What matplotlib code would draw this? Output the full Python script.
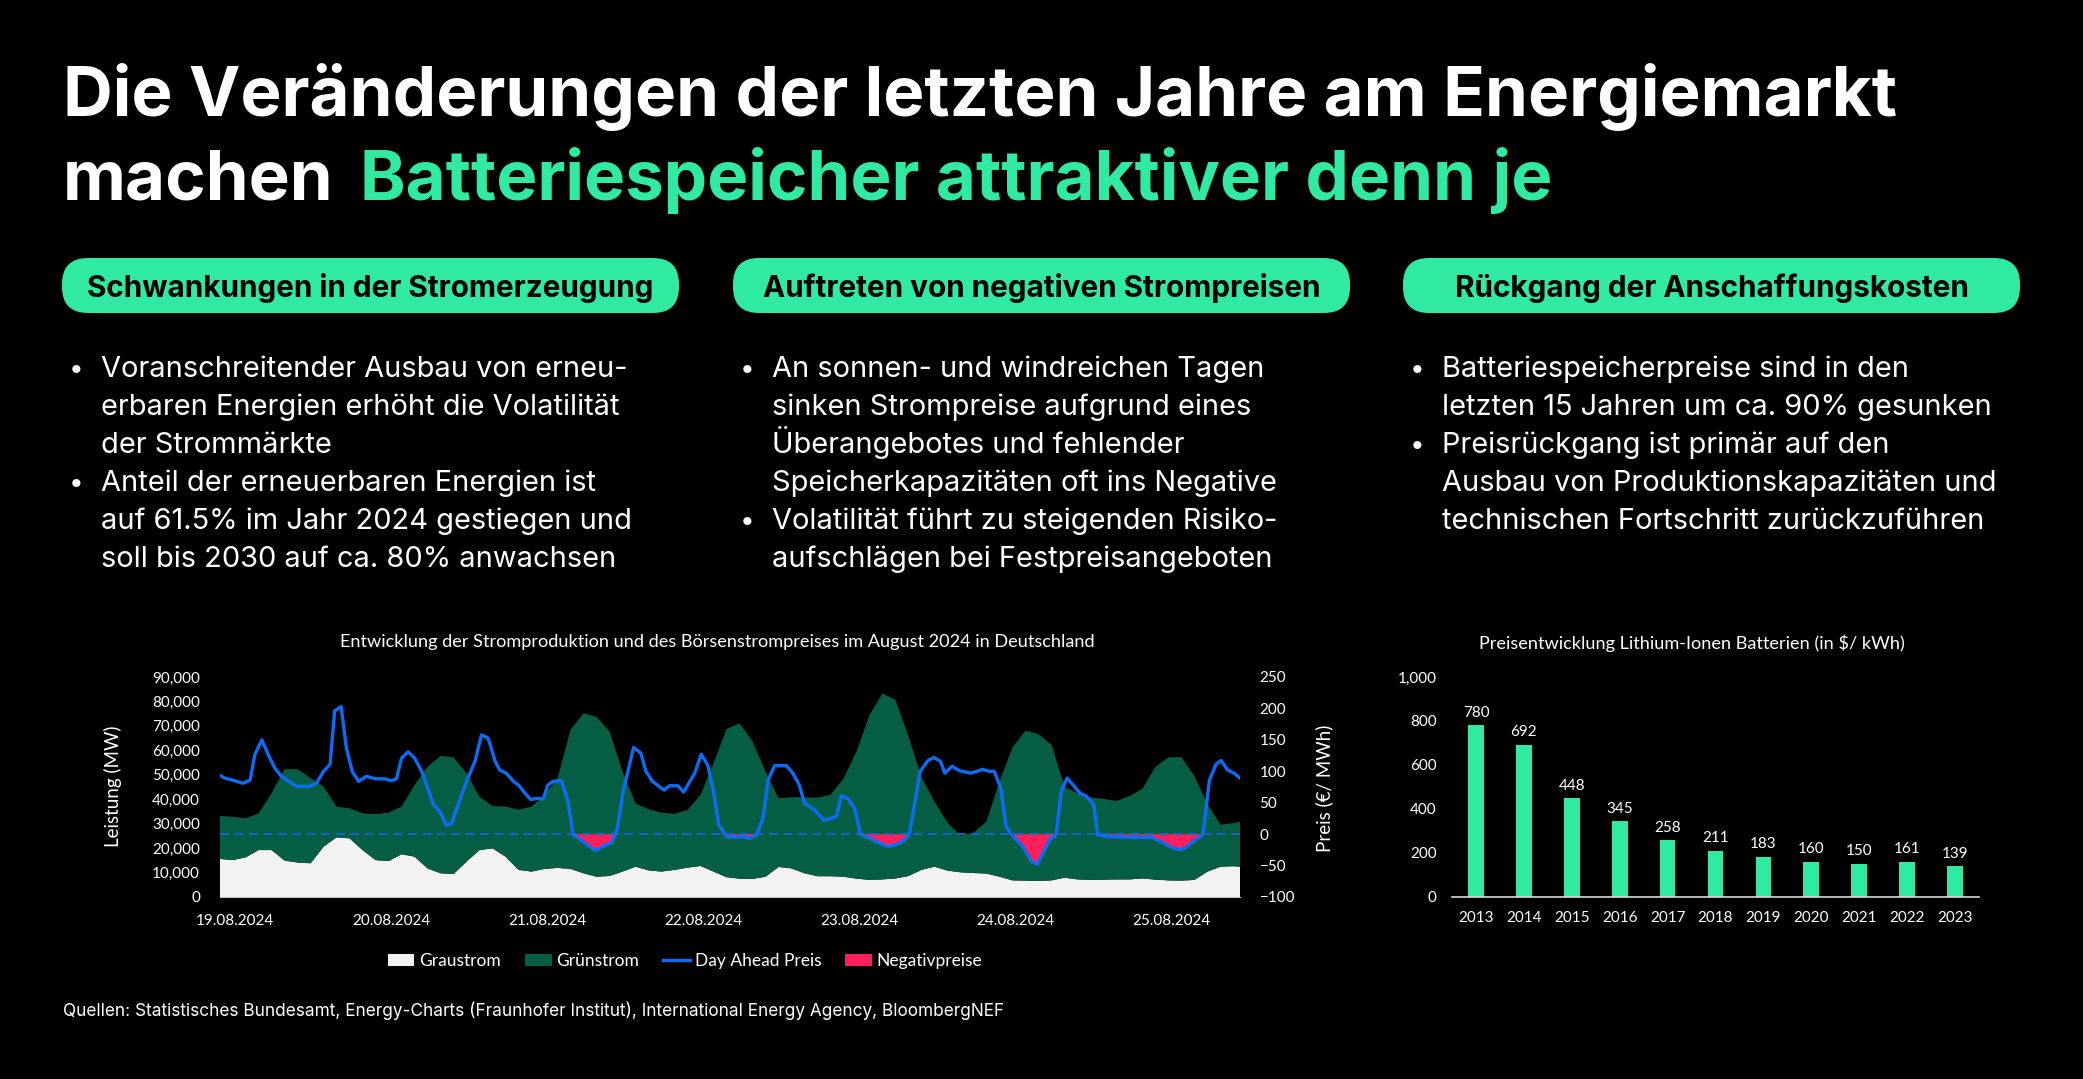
import numpy as np
import matplotlib.pyplot as plt
import matplotlib.ticker as mticker
from matplotlib.patches import FancyBboxPatch, Patch
from matplotlib.lines import Line2D

plt.rcParams['font.family'] = ['Inter', 'DejaVu Sans']

W, H = 2083, 1079
MINT = '#2feaa0'
DARK_GREEN = '#065e45'
GRAY = '#f2f2f2'
BLUE = '#0b6df6'
RED = '#ff1f5b'
CHART_FONT = ['Lato', 'DejaVu Sans']

# ---- Daten: Stromproduktion August 2024 (MW), alle 2 Stunden ab 19.08. 00:00
area_hours = list(range(0, 157, 2)) + [157]
graustrom = [15600, 15100, 16200, 19200, 19200, 14900, 14100, 13800, 20600, 24400,
             24000, 19200, 15100, 14700, 17500, 16500, 11700, 9700, 9400, 14500,
             19200, 19900, 16500, 11100, 10400, 11500, 11900, 11500, 9700, 8300,
             8600, 10400, 12400, 10900, 10400, 11100, 12000, 12700, 10400, 8100,
             7500, 7400, 8300, 12300, 11700, 9700, 8500, 8500, 8300, 7500,
             7000, 7200, 7600, 8600, 11100, 12400, 10800, 10100, 9800, 9600,
             8300, 6800, 6700, 6600, 6800, 7900, 7200, 7000, 7100, 7200,
             7200, 7600, 7100, 6800, 6700, 7000, 10400, 12400, 12600,
             12400]
gruenstrom = [17600, 17700, 16000, 15000, 23200, 37400, 38200, 34800, 24600, 12500,
              12300, 15000, 18800, 19800, 19500, 29300, 41600, 48000, 47700, 36100,
              21800, 17300, 20500, 24600, 26600, 30300, 36700, 56900, 65500, 65300,
              59100, 40900, 25900, 25000, 24100, 22900, 23600, 29100, 44300, 60600,
              63600, 56200, 43000, 28100, 29100, 31100, 32200, 33300, 40200, 52000,
              67500, 76100, 73000, 57000, 37900, 26600, 19600, 15000, 16500, 21300,
              38900, 54400, 61400, 60000, 55400, 37200, 35200, 33800, 33000, 32100,
              34100, 36700, 46200, 50300, 50500, 42300, 27600, 17200, 17600,
              18400]

# Day Ahead Preis (EUR/MWh)
price_hours = [0, 0.8, 2, 3.6, 4.7, 5.4, 6.5, 7.5, 8.5, 9.5,
               11.8, 13.9, 14.9, 16, 17, 17.7, 18.7, 19.5, 20.4, 21.4,
               22.6, 24, 25.4, 26.4, 27.2, 28, 29, 30, 31.1, 32.9,
               33.9, 34.9, 35.7, 36.7, 38, 39.3, 40.3, 41.3, 42.4, 43.1,
               44.1, 45.2, 46, 47, 47.9, 48.9, 49.8, 50.5, 51.3,
               52.6, 53.6, 54.4, 56.2, 57.8, 59.3, 60.4, 61.2, 62.1, 63.7,
               64.8, 65.6, 66.6, 68.4, 69.2, 70.5, 71.4, 73.1, 74.1, 75.1,
               75.9, 76.8, 78, 79.2, 80.5, 81.5, 82.6, 83.6, 84.4, 85.4,
               87.2, 88.2, 89.2, 90, 91.5, 93, 94.9, 95.7, 96.7, 97.7,
               98.6, 100.3, 102.8,
               103.8, 105.1, 106.1, 106.9, 107.8, 109, 109.9, 110.9, 111.6, 112.7,
               113.8, 115.6, 117.4, 118.4, 119.2, 120.2, 121, 122.3, 123.6, 124.9,
               125.8, 126.7, 127.7, 128.7, 129.5, 130.4, 131.5, 132.4, 133.3, 134.5,
               135.1, 136.6, 139.7, 143.3, 144.9, 146.4, 147.7, 148.7, 149.7, 151.3,
               152.3, 153.3, 154.1, 155.1, 156.1, 157]
price = [94, 89, 86, 81, 86, 126, 150, 126, 105, 92,
         76, 76, 81, 100, 111, 196, 203, 137, 100, 84,
         92, 88, 88, 85, 88, 121, 131, 121, 100, 47,
         36, 14, 17, 47, 84, 116, 158, 153, 116, 102,
         97, 84, 78, 65, 55, 57, 56, 78, 84,
         85, 52, -1, -14, -26, -18, -13, 10, 68, 138,
         129, 100, 84, 70, 77, 77, 67, 97, 127, 110,
         73, 15, -4, -5, -4, -7, -1, 25, 86, 109,
         109, 97, 78, 49, 39, 22, 28, 61, 56, 41,
         0, -8, -20,
         -17, -12, -1, 47, 100, 117, 122, 116, 97, 108,
         101, 97, 103, 100, 100, 73, 12, -6, -20, -43,
         -48, -30, -9, -1, 68, 89, 76, 65, 61, 47,
         -1, -4, -5, -5, -12, -21, -25, -21, -12, -1,
         86, 111, 117, 102, 97, 89]
day_labels = ['19.08.2024', '20.08.2024', '21.08.2024', '22.08.2024',
              '23.08.2024', '24.08.2024', '25.08.2024']

# Lithium-Ionen Batteriepreise ($/kWh)
years = ['2013', '2014', '2015', '2016', '2017', '2018', '2019', '2020', '2021', '2022', '2023']
battery_price = [780, 692, 448, 345, 258, 211, 183, 160, 150, 161, 139]

# ---- Texte
col1 = ['Voranschreitender Ausbau von erneu-', 'erbaren Energien erhöht die Volatilität',
        'der Strommärkte', 'Anteil der erneuerbaren Energien ist',
        'auf 61.5% im Jahr 2024 gestiegen und', 'soll bis 2030 auf ca. 80% anwachsen']
col2 = ['An sonnen- und windreichen Tagen', 'sinken Strompreise aufgrund eines',
        'Überangebotes und fehlender', 'Speicherkapazitäten oft ins Negative',
        'Volatilität führt zu steigenden Risiko-', 'aufschlägen bei Festpreisangeboten']
col3 = ['Batteriespeicherpreise sind in den', 'letzten 15 Jahren um ca. 90% gesunken',
        'Preisrückgang ist primär auf den', 'Ausbau von Produktionskapazitäten und',
        'technischen Fortschritt zurückzuführen']

fig = plt.figure(figsize=(W / 100, H / 100), dpi=100, facecolor='black')

# Hintergrund-Achse in Pixelkoordinaten
bg = fig.add_axes([0, 0, 1, 1], zorder=0)
bg.set_xlim(0, W)
bg.set_ylim(H, 0)
bg.axis('off')

TITLE_SIZE = 49.7
bg.text(63, 116, 'Die Veränderungen der letzten Jahre am Energiemarkt', color='white',
        fontsize=TITLE_SIZE, fontweight='bold', va='baseline')
bg.text(63, 200, 'machen', color='white', fontsize=TITLE_SIZE, fontweight='bold', va='baseline')
bg.text(360, 200, 'Batteriespeicher attraktiver denn je', color=MINT,
        fontsize=TITLE_SIZE, fontweight='bold', va='baseline')

pills = [(62, 'Schwankungen in der Stromerzeugung'),
         (733, 'Auftreten von negativen Strompreisen'),
         (1403, 'Rückgang der Anschaffungskosten')]
for x0, label in pills:
    bg.add_patch(FancyBboxPatch((x0, 258), 617, 55, boxstyle='round,pad=0,rounding_size=26',
                                fc=MINT, ec='none'))
    bg.text(x0 + 308.5, 297, label, color='black', fontsize=21.4, fontweight='bold',
            ha='center', va='baseline')

columns = [(101, col1, [0, 3]), (772, col2, [0, 4]), (1442, col3, [0, 2])]
for x0, lines, bullets in columns:
    for i, line in enumerate(lines):
        yb = 377 + i * 38
        bg.text(x0, yb, line, color='white', fontsize=20.9, va='baseline')
        if i in bullets:
            bg.text(x0 - 32, yb, '•', color='white', fontsize=19, va='baseline')

bg.text(63, 1016, 'Quellen: Statistisches Bundesamt, Energy-Charts (Fraunhofer Institut), '
        'International Energy Agency, BloombergNEF', color='white', fontsize=12.4, va='baseline')

# ---- Linkes Diagramm
TICK_SIZE = 11
ax1 = fig.add_axes([219.6 / W, 1 - 897 / H, (1240 - 219.6) / W, 220 / H], zorder=2)
ax1.set_facecolor('none')
ax1.stackplot(area_hours, graustrom, gruenstrom, colors=[GRAY, DARK_GREEN], lw=0)
ax1.set_xlim(0, 157)
ax1.set_ylim(0, 90000)
ax1.set_yticks(range(0, 90001, 10000))
ax1.yaxis.set_major_formatter(mticker.StrMethodFormatter('{x:,.0f}'))
ax1.set_xticks([2.4 + 24 * k for k in range(len(day_labels))])
ax1.set_xticklabels(day_labels)
ax1.tick_params(length=0, colors='white', labelsize=TICK_SIZE)
ax1.tick_params(axis='y', pad=14)
ax1.tick_params(axis='x', pad=12)
for s in ['top', 'left', 'right']:
    ax1.spines[s].set_visible(False)
ax1.spines['bottom'].set_color('#bfbfbf')

ax2 = ax1.twinx()
ax2.set_ylim(-100, 250)
p = np.array(price)
ax2.fill_between(price_hours, p, 0, where=p < 0, interpolate=True, color=RED, lw=0)
ax2.axhline(0, color='#1e64d0', ls=(0, (5, 3)), lw=1.3)
ax2.plot(price_hours, p, color=BLUE, lw=2.4, solid_joinstyle='round')
ax2.set_yticks(range(-100, 251, 50))
ax2.tick_params(length=0, colors='white', labelsize=TICK_SIZE, pad=14)
for s in ax2.spines.values():
    s.set_visible(False)

for a in (ax1, ax2):
    for t in a.get_xticklabels() + a.get_yticklabels():
        t.set_family(CHART_FONT)

bg.text(113, 786, 'Leistung (MW)', color='white', fontsize=13.5, rotation=90,
        ha='center', va='center', family=CHART_FONT)
bg.text(1324, 788, 'Preis (€/ MWh)', color='white', fontsize=13.5, rotation=90,
        ha='center', va='center', family=CHART_FONT)
bg.text(717, 642, 'Entwicklung der Stromproduktion und des Börsenstrompreises im August 2024 in Deutschland',
        color='white', fontsize=13.1, ha='center', va='center', family=CHART_FONT)

handles = [Patch(fc=GRAY), Patch(fc=DARK_GREEN), Line2D([], [], color=BLUE, lw=2.4), Patch(fc=RED)]
fig.legend(handles, ['Graustrom', 'Grünstrom', 'Day Ahead Preis', 'Negativpreise'],
           loc='center', bbox_to_anchor=(685 / W, 1 - 961 / H), ncol=4, frameon=False,
           prop={'family': CHART_FONT, 'size': 12.5}, labelcolor='white',
           handlelength=1.55, handleheight=0.7, handletextpad=0.25, columnspacing=1.4)

# ---- Rechtes Diagramm
ax3 = fig.add_axes([1452 / W, 1 - 897 / H, 527 / W, 220 / H], zorder=2)
ax3.set_facecolor('none')
bars = ax3.bar(range(len(years)), battery_price, width=0.33, color=MINT)
ax3.bar_label(bars, labels=[str(v) for v in battery_price], padding=4, color='white',
              fontsize=TICK_SIZE, family=CHART_FONT)
ax3.set_xlim(-0.5, len(years) - 0.5)
ax3.set_ylim(0, 1000)
ax3.set_yticks(range(0, 1001, 200))
ax3.yaxis.set_major_formatter(mticker.StrMethodFormatter('{x:,.0f}'))
ax3.set_xticks(range(len(years)))
ax3.set_xticklabels(years)
ax3.tick_params(length=0, colors='white', labelsize=TICK_SIZE)
ax3.tick_params(axis='y', pad=11)
ax3.tick_params(axis='x', pad=10)
for t in ax3.get_xticklabels() + ax3.get_yticklabels():
    t.set_family(CHART_FONT)
for s in ['top', 'left', 'right']:
    ax3.spines[s].set_visible(False)
ax3.spines['bottom'].set_color('#d9d9d9')
ax3.spines['bottom'].set_linewidth(1.2)

bg.text(1692, 643, 'Preisentwicklung Lithium-Ionen Batterien (in $/ kWh)', color='white',
        fontsize=13.1, ha='center', va='center', family=CHART_FONT)

fig.savefig('out.png', dpi=100, facecolor='black')
